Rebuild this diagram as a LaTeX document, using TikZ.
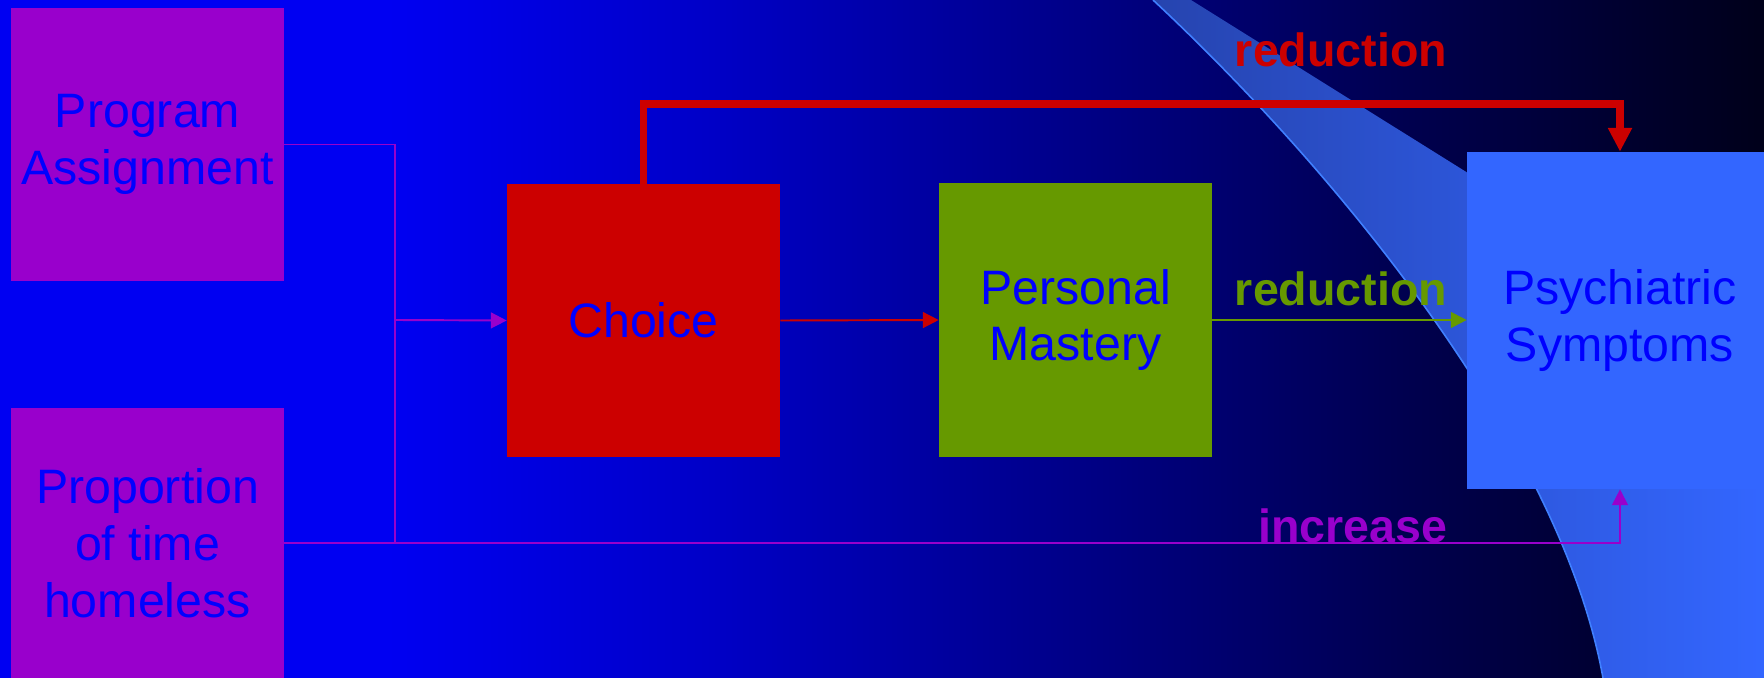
\documentclass[tikz,border=0pt]{standalone}
\usepackage{fontspec}
\setmainfont{Liberation Sans}
\usetikzlibrary{arrows.meta}

\definecolor{bga}{RGB}{0,0,242}
\definecolor{bgb}{RGB}{0,0,200}
\definecolor{bgc}{RGB}{0,0,132}
\definecolor{bgd}{RGB}{0,0,78}
\definecolor{bge}{RGB}{0,0,26}
\definecolor{bandl}{RGB}{38,68,175}
\definecolor{bandr}{RGB}{51,102,255}
\definecolor{bandedge}{RGB}{64,128,255}
\definecolor{purplec}{RGB}{153,0,204}
\definecolor{redc}{RGB}{204,0,0}
\definecolor{greenc}{RGB}{102,153,0}
\definecolor{sympc}{RGB}{51,102,255}
\definecolor{txtblue}{RGB}{0,0,255}

\pgfdeclarehorizontalshading{bgfade}{100bp}{color(0bp)=(bga); color(36bp)=(bga);
  color(45bp)=(bgb); color(56bp)=(bgc); color(65bp)=(bgd); color(75bp)=(bge); color(100bp)=(bge)}

\tikzset{
  blockbox/.style={minimum width=5.46cm, minimum height=5.46cm, inner sep=0pt,
    align=center, text=txtblue, font=\fontsize{27.5}{32.3}\selectfont},
  linklabel/.style={inner sep=0pt, font=\bfseries\fontsize{26.5}{30}\selectfont},
  purpleline/.style={draw=purplec, line width=1.1pt},
  smalltip/.style={-{Triangle[length=9pt,width=9pt]}},
}

\begin{document}
\begin{tikzpicture}[x=0.02cm, y=-0.02cm]
    \useasboundingbox (0,0) rectangle (1764,678);
    \shade[shading=bgfade] (0,0) rectangle (1764,678);
    % swoosh behind the boxes
    \shade[left color=bandl, right color=bandr] (1153,0) .. controls (1330,165) and (1560,440) .. (1603,678)
        -- (1764,678) -- (1764,358) -- (1191,0) -- cycle;
    \draw[bandedge, line width=0.9pt] (1153,0) .. controls (1330,165) and (1560,440) .. (1603,678);

    \node[blockbox, fill=purplec] (prog) at (147.5,144.5) {Program\\Assignment};
    \node[blockbox, fill=purplec, minimum height=5.4cm] (prop) at (147.5,543) {Proportion\\of time\\homeless};
    \node[blockbox, fill=redc] (choice) at (643.5,320.5) {Choice};
    \node[blockbox, fill=greenc, minimum height=5.48cm] (mastery) at (1075.5,320) {Personal\\Mastery};
    \node[blockbox, fill=sympc, minimum width=6.12cm, minimum height=6.74cm] (symp) at (1620,320.5) {Psychiatric\\Symptoms};

    \coordinate (split) at (395,320);
    \draw[purpleline] (prog.east) -| (split);
    \draw[purpleline] (prop.east) -| (split);
    \draw[purpleline, smalltip] (split) -- (choice.west);
    \draw[purpleline, smalltip] (prop.east) -| (symp.south);
    \draw[redc, line width=1.1pt, smalltip] (choice.east) -- (mastery.west);
    \draw[greenc, line width=1.1pt, smalltip] (mastery.east) -- (mastery.east -| symp.west);
    \draw[redc, line width=4.5pt, -{Triangle[length=13.6pt,width=13pt]}] (choice.north) -- ++(0,-80) -| (symp.north);

    \node[linklabel, text=redc] (redlab) at (1341,50) {reduction};
    \node[linklabel, text=greenc] (greenlab) at (1341,289) {reduction};
    \node[linklabel, text=purplec] (inclab) at (1353,526) {increase};
\end{tikzpicture}
\end{document}
